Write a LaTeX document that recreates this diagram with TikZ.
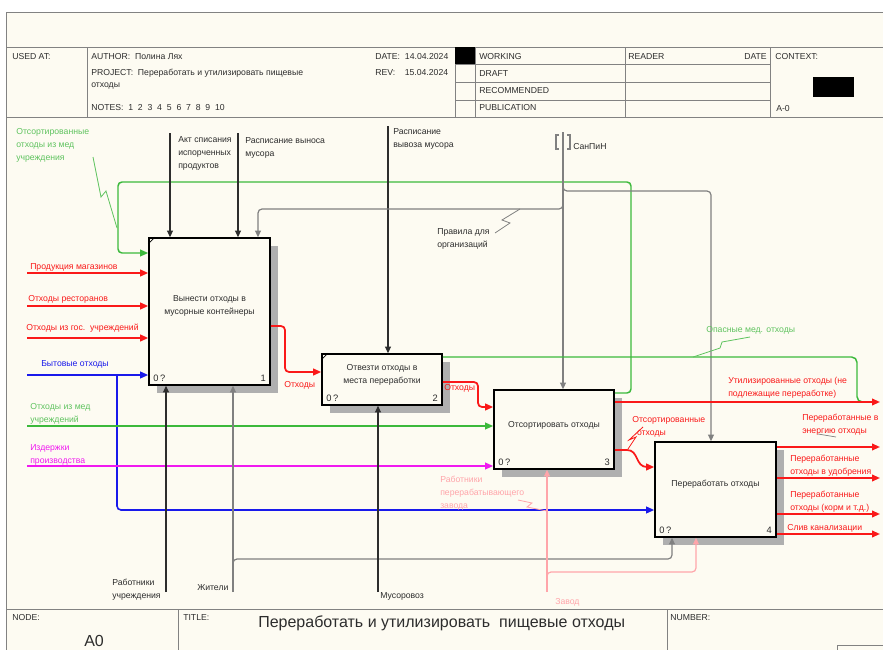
\documentclass[tikz,border=0pt]{standalone}
\usepackage{fontspec}
\setmainfont{Liberation Sans}
\usetikzlibrary{arrows.meta}
\definecolor{cream}{RGB}{253,251,242}
\definecolor{frm}{RGB}{130,130,130}
\definecolor{rd}{RGB}{250,25,25}
\definecolor{gn}{RGB}{60,185,60}
\definecolor{gnt}{RGB}{95,195,95}
\definecolor{bl}{RGB}{25,25,235}
\definecolor{mg}{RGB}{240,25,240}
\definecolor{pk}{RGB}{255,165,170}
\definecolor{gy}{RGB}{128,128,128}
\definecolor{kk}{RGB}{45,45,45}
\definecolor{shd}{RGB}{175,175,175}
\newcommand\lblf{\fontsize{6.5}{9.75}\selectfont}
\begin{document}
\begin{tikzpicture}[x=0.75pt,y=-0.75pt,
  lab/.style={font=\lblf, inner sep=0pt, anchor=north west, align=left, text=kk},
  labw/.style={font=\lblf, inner sep=0pt, anchor=west, text=kk},
  box/.style={draw=black, line width=1.2pt, fill=cream, inner sep=0pt},
  boxtxt/.style={font=\lblf, align=center, inner sep=0pt, text=kk},
  num/.style={font=\fontsize{7}{8}\selectfont, inner sep=0pt, text=kk},
  ctip/.style={-{Triangle[length=6pt,width=5pt]}},
  ktip/.style={-{Triangle[length=5pt,width=4.5pt]}},
  rline/.style={draw=rd, line width=1.3pt, ctip, rounded corners=3pt},
  gline/.style={draw=gn, line width=1.1pt, ctip, rounded corners=3pt},
  bline/.style={draw=bl, line width=1.2pt, ctip, rounded corners=3pt},
  mline/.style={draw=mg, line width=1.1pt, ctip, rounded corners=3pt},
  pline/.style={draw=pk, line width=0.9pt, ktip, rounded corners=3pt},
  gyline/.style={draw=gy, line width=0.9pt, ktip, rounded corners=3pt},
  kline/.style={draw=kk, line width=0.8pt, ktip, rounded corners=3pt},
  fr/.style={draw=frm, line width=0.7pt}
]
\useasboundingbox (0,0) rectangle (883,650);
\fill[white] (0,0) rectangle (883,650);
\fill[cream] (6,12) rectangle (883,650);
% frame
\draw[fr] (883,12) -- (6,12) -- (6,650);
\draw[fr] (6,47) -- (883,47);
\draw[fr] (6,117) -- (883,117);
\draw[fr] (6,609) -- (883,609);
\draw[fr] (87,47) -- (87,117);
\draw[fr] (455,47) -- (455,117);
\draw[fr] (475,47) -- (475,117);
\draw[fr] (625,47) -- (625,117);
\draw[fr] (770,47) -- (770,117);
\draw[fr] (455,64) -- (770,64);
\draw[fr] (455,82) -- (770,82);
\draw[fr] (455,100) -- (770,100);
\fill[black] (455,47) rectangle (475,64);
\fill[black] (813,77) rectangle (854,97);
\draw[fr] (178,609) -- (178,650);
\draw[fr] (667,609) -- (667,650);
\draw[fr] (837,650) -- (837,645) -- (883,645);
% header texts
\node[labw] (hUsed) at (12,57) {USED AT:};
\node[labw] (hAuth) at (91,57) {AUTHOR:\ \ Полина Лях};
\node[labw] (hProj) at (91,73) {PROJECT:\ \ Переработать и утилизировать пищевые};
\node[labw] (hProj2) at (91,86) {отходы};
\node[labw] (hNotes) at (91,108) {NOTES:\ \ 1\ \ 2\ \ 3\ \ 4\ \ 5\ \ 6\ \ 7\ \ 8\ \ 9\ \ 10};
\node[labw] (hDate) at (375,57) {DATE:\ \ 14.04.2024};
\node[labw] (hRev) at (375,73) {REV:\ \ \ \ 15.04.2024};
\node[labw] (hW) at (479,57) {WORKING};
\node[labw] (hD) at (479,74) {DRAFT};
\node[labw] (hR) at (479,91) {RECOMMENDED};
\node[labw] (hP) at (479,108) {PUBLICATION};
\node[labw] (hRd) at (628,57) {READER};
\node[labw, anchor=east] (hDt) at (767,57) {DATE};
\node[labw] (hC) at (775,57) {CONTEXT:};
\node[labw] (hA) at (776,109) {A-0};
% footer
\node[labw] (fN) at (12,618) {NODE:};
\node[labw] (fT) at (183,618) {TITLE:};
\node[labw] (fNum) at (670,618) {NUMBER:};
\node[font=\fontsize{12}{14}\selectfont, inner sep=0pt, anchor=west, text=kk] (fA) at (84,641) {A0};
\node[font=\fontsize{12}{14}\selectfont, inner sep=0pt, anchor=west, text=kk] (fTitle) at (258,623) {Переработать и утилизировать\ \ пищевые отходы};
% shadows
\fill[shd] (157,246) rectangle (278,393);
\fill[shd] (330,362) rectangle (450,413);
\fill[shd] (502,398) rectangle (622,477);
\fill[shd] (663,450) rectangle (784,545);
% boxes
\node[box, minimum width=90.75pt, minimum height=110.25pt] (b1) at (209.5,311.5) {};
\node[box, minimum width=90pt, minimum height=38.25pt] (b2) at (382,379.5) {};
\node[box, minimum width=90pt, minimum height=59.25pt] (b3) at (554,429.5) {};
\node[box, minimum width=90.75pt, minimum height=71.25pt] (b4) at (715.5,489.5) {};
\draw[black, line width=0.6pt] ([yshift=-5pt]b1.north west) -- ([xshift=5pt]b1.north west);
\draw[black, line width=0.6pt] ([yshift=-5pt]b2.north west) -- ([xshift=5pt]b2.north west);
\node[boxtxt] (t1) at (209.5,305.5) {Вынести отходы в\\мусорные контейнеры};
\node[boxtxt] (t2) at (382,374.5) {Отвезти отходы в\\места переработки};
\node[boxtxt] (t3) at (554,425) {Отсортировать отходы};
\node[boxtxt] (t4) at (715.5,484) {Переработать отходы};
\node[num, anchor=west] (n1a) at (153,378) {0\,?};
\node[num, anchor=east] (n1b) at (266,378) {1};
\node[num, anchor=west] (n2a) at (326,398) {0\,?};
\node[num, anchor=east] (n2b) at (438,398) {2};
\node[num, anchor=west] (n3a) at (498,462) {0\,?};
\node[num, anchor=east] (n3b) at (610,462) {3};
\node[num, anchor=west] (n4a) at (659,530) {0\,?};
\node[num, anchor=east] (n4b) at (772,530) {4};
% free-end coordinates
\coordinate (iR1) at (27,273);
\coordinate (iR2) at (27,306);
\coordinate (iR3) at (27,338);
\coordinate (iB) at (27,375);
\coordinate (iG) at (27,426);
\coordinate (iM) at (27,466);
\coordinate (cAkt) at (170,133);
\coordinate (cRas) at (238,133);
\coordinate (cVyv) at (388,126);
\coordinate (cSan) at (563,132);
\coordinate (mRab) at (166,592);
\coordinate (mZhit) at (233,592);
\coordinate (mMus) at (378,592);
\coordinate (mZav) at (547,592);
\coordinate (oU) at (880,402);
\coordinate (oE) at (880,447);
\coordinate (oUd) at (880,478);
\coordinate (oK) at (880,514);
\coordinate (oS) at (880,534);
% green feedback from box 3 to box 1
\draw[gline] (b3.east |- 0,393) -- (631,393) -- (631,182) -- (118,182) -- (118,253) -- (b1.west |- 0,253);
% inputs
\draw[rline] (iR1) -- (b1.west |- iR1);
\draw[rline] (iR2) -- (b1.west |- iR2);
\draw[rline] (iR3) -- (b1.west |- iR3);
\draw[bline] (iB) -- (b1.west |- iB);
\draw[bline] (117,375) -- (117,510) -- (b4.west |- 0,510);
\draw[gline] (iG) -- (b3.west |- iG);
\draw[mline] (iM) -- (b3.west |- iM);
% controls
\draw[kline] (cAkt) -- (b1.north -| cAkt);
\draw[kline] (cRas) -- (b1.north -| cRas);
\draw[kline] (cVyv) -- (b2.north -| cVyv);
\draw[gyline] (cSan) -- (b3.north -| cSan);
\draw[gyline] (563,200) -- (563,209) -- (258,209) -- (b1.north -| 258,0);
\draw[gyline] (563,182) -- (563,191) -- (711,191) -- (b4.north -| 711,0);
% mechanisms
\draw[kline] (mRab) -- (b1.south -| mRab);
\draw[gyline] (mZhit) -- (b1.south -| mZhit);
\draw[gyline] (233,568) -- (233,559) -- (672,559) -- (b4.south -| 672,0);
\draw[kline] (mMus) -- (b2.south -| mMus);
\draw[pline] (mZav) -- (b3.south -| mZav);
\draw[pline] (547,580) -- (547,572) -- (696,572) -- (b4.south -| 696,0);
% outputs
\draw[rline] (b1.east |- 0,326) -- (285,326) -- (285,372) -- (b2.west |- 0,372);
\draw[rline] (b2.east |- 0,382) -- (478,382) -- (478,407) -- (b3.west |- 0,407);
\draw[draw=gn, line width=1.1pt, rounded corners=4pt] (b2.east |- 0,357) -- (857,357) -- (857,402) -- (866,402);
\draw[rline] (b3.east |- 0,402) -- (oU);
\draw[draw=rd, line width=1.3pt, ctip] (b3.east |- 0,450) -- (627,450) .. controls (639,450) and (635,467) .. (647,467) -- (b4.west |- 0,467);
\draw[rline] (b4.east |- oE) -- (oE);
\draw[rline] (b4.east |- oUd) -- (oUd);
\draw[rline] (b4.east |- oK) -- (oK);
\draw[rline] (b4.east |- oS) -- (oS);
% tunnel brackets
\draw[gy, line width=0.8pt] (559,135) -- (556,135) -- (556,149) -- (559,149);
\draw[gy, line width=0.8pt] (567,135) -- (570,135) -- (570,149) -- (567,149);
% squiggles
\draw[gnt, line width=0.6pt] (93,157) -- (101,197) -- (106,191) -- (117,228);
\draw[gy, line width=0.6pt] (495,233) -- (510,223) -- (502,220) -- (520,209);
\draw[gnt, line width=0.6pt] (750,337) -- (722,342) -- (720,348) -- (693,357);
\draw[rd, line width=0.6pt] (643,427) -- (629,440) -- (636,437) -- (628,449);
\draw[pk, line width=0.6pt] (518,500) -- (532,503) -- (527,507) -- (547,511);
\draw[gy, line width=0.5pt] (818,434) -- (836,437);
% labels
\node[lab, text=gnt] (lSortMed) at (16,128) {Отсортированные\\отходы из мед\\учреждения};
\node[lab] (lAkt) at (178,136) {Акт списания\\испорченных\\продуктов};
\node[lab] (lRas) at (245,137) {Расписание выноса\\мусора};
\node[lab] (lVyv) at (393,128) {Расписание\\вывоза мусора};
\node[labw] (lSan) at (573,147) {СанПиН};
\node[lab] (lPrav) at (437,228) {Правила для\\организаций};
\node[labw, text=gnt] (lOpas) at (706,330) {Опасные мед. отходы};
\node[labw, text=rd] (lProd) at (30,267) {Продукция магазинов};
\node[labw, text=rd] (lRest) at (28,299) {Отходы ресторанов};
\node[labw, text=rd] (lGos) at (26,328) {Отходы из гос.\ \ учреждений};
\node[labw, text=bl] (lByt) at (41,364) {Бытовые отходы};
\node[lab, text=gnt] (lMed) at (30,403) {Отходы из мед\\учреждений};
\node[lab, text=mg] (lIzd) at (30,444) {Издержки\\производства};
\node[labw, text=rd] (lOtx1) at (284,385) {Отходы};
\node[labw, text=rd] (lOtx2) at (444,388) {Отходы};
\node[lab, text=rd] (lUtil) at (728,377) {Утилизированные отходы (не\\подлежащие переработке)};
\node[lab, text=rd] (lSort) at (632,416) {Отсортированные\\\ \ отходы};
\node[lab, text=rd] (lEn) at (802,414) {Переработанные в\\энергию отходы};
\node[lab, text=rd] (lUd) at (790,455) {Переработанные\\отходы в удобрения};
\node[lab, text=rd] (lKorm) at (790,491) {Переработанные\\отходы (корм и т.д.)};
\node[labw, text=rd] (lSliv) at (787,528) {Слив канализации};
\node[lab, text=pk] (lRabZ) at (440,476) {Работники\\перерабатывающего\\завода};
\node[lab] (lRabU) at (112,579) {Работники\\учреждения};
\node[labw] (lZh) at (197,588) {Жители};
\node[labw] (lMus) at (380,596) {Мусоровоз};
\node[labw, text=pk] (lZav) at (555,602) {Завод};
\end{tikzpicture}
\end{document}
